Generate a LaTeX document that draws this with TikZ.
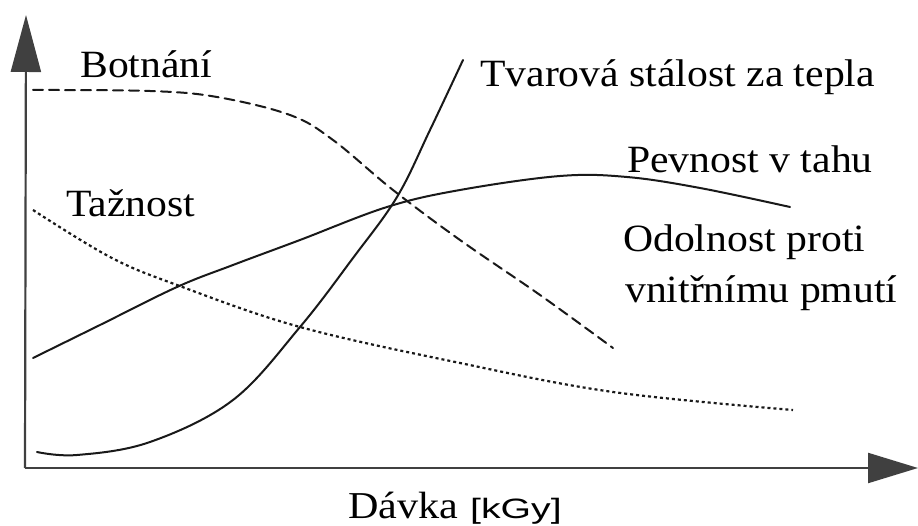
\documentclass[tikz,border=0pt]{standalone}
\usepackage{fontspec}
\setmainfont{Liberation Serif}
\setsansfont{Liberation Sans}
\newfontfamily\serifface{Liberation Serif}
\newcommand{\widetext}[1]{\scalebox{1.08}[1]{#1}}
\usetikzlibrary{arrows.meta}
\tikzset{
  axisline/.style={draw=black!75, line width=2.2pt},
  curve/.style={draw=black!90, line width=2pt, line cap=round},
  dashcurve/.style={curve, dash pattern=on 10pt off 6pt},
  dotcurve/.style={curve, line width=2.2pt, line cap=butt, dash pattern=on 3pt off 3pt},
  lbl/.style={anchor=base west, inner sep=0pt, font=\serifface\fontsize{38.6}{42}\selectfont}
}
\begin{document}
\begin{tikzpicture}[x=1pt,y=-1pt]
\useasboundingbox (0,0) rectangle (918,526);
\fill[white] (0,0) rectangle (918,526);
% axes
\coordinate (origin) at (25,468);
\coordinate (ytip) at (26,15);
\coordinate (xtip) at (918,468);
\draw[axisline, -{Triangle[length=57pt,width=30pt]}] (origin) -- (ytip);
\draw[axisline, -{Triangle[length=50pt,width=30pt]}] (origin) -- (xtip);
% Botnani (dashed)
\draw[dashcurve] plot[smooth, tension=0.6] coordinates {(33,90) (150,91) (217,97) (290,115) (333,140) (393,190) (460,240) (540,295) (613,348)};
% Tvarova stalost (solid)
\draw[curve] plot[smooth, tension=0.6] coordinates {(37,452) (77,455) (150,442) (233,400) (300,327) (353,258) (397,197) (430,130) (463,60)};
% Pevnost v tahu (solid)
\draw[curve] plot[smooth, tension=0.6] coordinates {(33,358) (100,325) (177,287) (233,265) (300,240) (387,207) (460,190) (560,176) (627,177) (700,188) (790,207)};
% Taznost (dotted)
\draw[dotcurve] plot[smooth, tension=0.6] coordinates {(33,210) (110,257) (177,285) (300,327) (460,363) (613,392) (793,410)};
% labels
\node[lbl] (botnani) at (80,78) {\widetext{Botnání}};
\node[lbl] (tvar) at (480,87) {\widetext{Tvarová stálost za tepla}};
\node[lbl] (pevnost) at (627,173) {\widetext{Pevnost v tahu}};
\node[lbl] (taznost) at (66,217) {\widetext{Tažnost}};
\node[lbl] (odol1) at (623,252) {\widetext{Odolnost proti}};
\node[lbl] (odol2) at (625,303) {\widetext{vnitřnímu pmutí}};
\node[anchor=base west, inner sep=0pt] (davka) at (348,518) {\scalebox{1.11}[1]{\serifface\fontsize{38}{40}\selectfont Dávka}};
\node[anchor=base west, inner sep=0pt] (unit) at (470,518) {\scalebox{1.4}[1]{\sffamily\fontsize{28}{30}\selectfont [kGy]}};
\end{tikzpicture}
\end{document}
